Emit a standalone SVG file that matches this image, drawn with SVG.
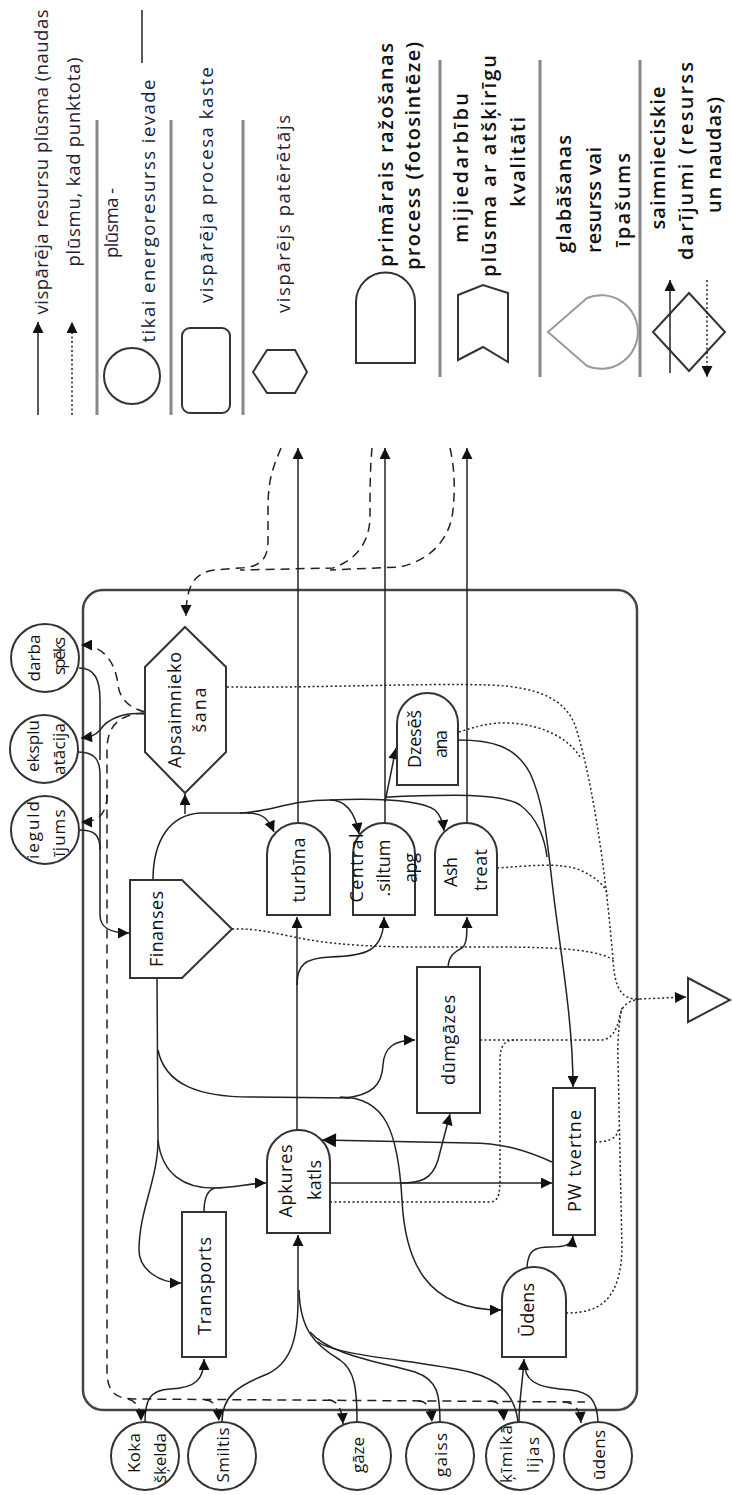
<svg xmlns="http://www.w3.org/2000/svg" width="732" height="1495" viewBox="0 0 732 1495">
<defs>
<style>
.n{fill:#fff;stroke:#333;stroke-width:2}
.c{fill:none;stroke:#222;stroke-width:1.5}
.a{marker-end:url(#ah)}
.d{stroke-dasharray:9,6}
.p{stroke-dasharray:2,2.5}
.sep{stroke:#888;stroke-width:3}
.t{font-family:"Open Sans","Liberation Sans",Arial,sans-serif;font-size:17px;fill:#111;text-anchor:middle;dominant-baseline:central}
.nd{font-size:18px}
.lg{fill:#1c2238;font-size:18.5px}
.big{font-size:20px;font-weight:600}
</style>
<marker id="ah" viewBox="0 0 10 10" refX="10" refY="5" markerWidth="12" markerHeight="11" markerUnits="userSpaceOnUse" orient="auto"><path d="M0,0 L10,5 L0,10 z" fill="#111"/></marker>
<marker id="ahb" viewBox="0 0 10 10" refX="10" refY="5" markerWidth="16" markerHeight="14" markerUnits="userSpaceOnUse" orient="auto"><path d="M0,0 L10,5 L0,10 z" fill="#111"/></marker>
</defs>
<rect width="732" height="1495" fill="#fff"/>

<g id="legend">
<path class="c a" d="M38,415 V322"/>
<path class="c a p" d="M72,415 V322"/>
<line class="sep" x1="97" y1="120" x2="97" y2="415"/>
<line class="sep" x1="171" y1="120" x2="171" y2="415"/>
<line class="sep" x1="243" y1="120" x2="243" y2="415"/>
<line class="sep" x1="440" y1="60" x2="440" y2="377"/>
<line class="sep" x1="540" y1="60" x2="540" y2="377"/>
<line class="sep" x1="640" y1="60" x2="640" y2="377"/>
<circle class="n" cx="132" cy="376" r="28"/>
<line x1="142" y1="10" x2="142" y2="63" stroke="#222" stroke-width="1.5"/>
<rect class="n" x="182" y="328" width="48" height="85" rx="8"/>
<polygon class="n" points="253,372 267,350 295,350 307,372 295,393 267,393"/>
<path class="n" d="M356,363 V302 A29.5,29.5 0 0 1 415,302 V363 Z"/>
<polygon class="n" points="458,295 483,285 508,293 508,362 483,347 458,360"/>
<path d="M548,332 L587,298 A36.8,36.8 0 1 1 587,366 Z" fill="#fff" stroke="#999" stroke-width="2"/>
<polygon class="n" points="689,293 725,332 689,371 653,332"/>
<path class="c a" d="M670,373 V280"/>
<path class="c a p" d="M707,280 V377"/>
<text class="t lg" transform="translate(40,162) rotate(-90)" textLength="305">vispārēja resursu plūsma (naudas</text>
<text class="t lg" transform="translate(72,162) rotate(-90)" textLength="209">plūsmu, kad punktota)</text>
<text class="t lg" transform="translate(110,223) rotate(-90)" textLength="70">plūsma -</text>
<text class="t lg" transform="translate(147,211) rotate(-90)" textLength="263">tikai energoresurss ievade</text>
<text class="t lg" transform="translate(205,185) rotate(-90)" textLength="236">vispārēja procesa kaste</text>
<text class="t lg" transform="translate(282,214) rotate(-90)" textLength="198">vispārējs patērētājs</text>
<text class="t big" transform="translate(385,155) rotate(-90)" textLength="224">primārais ražošanas</text>
<text class="t big" transform="translate(412,156) rotate(-90)" textLength="228">process (fotosintēze)</text>
<text class="t big" transform="translate(460,168) rotate(-90)" textLength="150">mijiedarbību</text>
<text class="t big" transform="translate(488,166) rotate(-90)" textLength="222">plūsma  ar atšķirīgu</text>
<text class="t big" transform="translate(517,162) rotate(-90)" textLength="90">kvalitāti</text>
<text class="t big" transform="translate(563,194) rotate(-90)" textLength="118">glabāšanas</text>
<text class="t big" transform="translate(593,200) rotate(-90)" textLength="106">resurss vai</text>
<text class="t big" transform="translate(622,200) rotate(-90)" textLength="94">īpašums</text>
<text class="t big" transform="translate(657,158) rotate(-90)" textLength="143">saimnieciskie</text>
<text class="t big" transform="translate(685,161) rotate(-90)" textLength="198">darījumi  (resurss</text>
<text class="t big" transform="translate(713,155) rotate(-90)" textLength="116">un naudas)</text>
</g>

<rect id="system" x="83" y="590" width="554" height="820" rx="20" fill="none" stroke="#444" stroke-width="2.5"/>

<g id="connectors">
<path class="c a" d="M298,823 V448"/>
<path class="c a" d="M385,823 V448"/>
<path class="c a" d="M467,823 V448"/>
<path class="c a" d="M385,802 L396,748"/>
<path class="c" d="M385,797 C440,795 500,792 520,805 C538,818 545,840 547,857"/>
<path class="c a" d="M458,740 C490,740 515,745 530,773 C545,805 548,850 553,890 C560,950 573,1020 573,1087"/>
<path class="c" d="M153,880 C153,840 170,815 200,813 L250,813"/>
<path class="c a" d="M185,814 V794"/>
<path class="c a" d="M248,813 C262,813 268,818 274,832"/>
<path class="c" d="M240,813 C270,812 290,800 330,800"/>
<path class="c a" d="M330,800 C345,800 355,812 359,834"/>
<path class="c a" d="M330,800 C380,798 420,800 435,810 C440,815 443,822 444,831"/>
<path class="c a" d="M157,978 L158,1140 C158,1180 139,1210 139,1250 C139,1270 160,1283 181,1283"/>
<path class="c" d="M158,1050 C165,1085 200,1097 250,1097 L350,1098"/>
<path class="c a" d="M345,1098 C372,1095 382,1085 383,1065 C384,1047 395,1040 415,1040"/>
<path class="c a" d="M340,1097 C385,1097 398,1130 402,1200 C405,1260 425,1310 501,1310"/>
<path class="c a" d="M158,1140 C162,1175 185,1188 213,1188 C235,1188 250,1183 266,1183"/>
<path class="c" d="M204,1212 C204,1198 207,1190 215,1188"/>
<path class="c a" d="M297,1130 V917"/>
<path class="c a" d="M297,985 C297,965 305,958 330,957 C365,956 384,952 384,917"/>
<path class="c a" d="M330,1183 L552,1183"/>
<path class="c a" d="M400,1183 C420,1183 432,1180 438,1160 L450,1114"/>
<path class="c" d="M552,1162 C530,1152 505,1143 470,1143 L322,1140" stroke-width="2.2" marker-end="url(#ahb)"/>
<path class="c a" d="M448,967 C449,955 455,952 462,948 C467,944 467,935 467,917"/>
<path class="c a" d="M145,1422 C145,1400 150,1390 170,1389 C195,1388 204,1380 204,1359"/>
<path class="c a" d="M222,1422 C222,1395 240,1385 265,1375 C290,1365 298,1340 298,1300 L298,1235"/>
<path class="c" d="M357,1422 C357,1390 355,1370 340,1360 C315,1345 300,1330 299,1290"/>
<path class="c" d="M440,1422 C440,1395 438,1380 415,1372 C380,1362 330,1355 310,1332"/>
<path class="c" d="M518,1422 C515,1395 500,1380 470,1372 C420,1360 340,1357 318,1342"/>
<path class="c a" d="M519,1422 C519,1400 523,1380 524,1359"/>
<path class="c" d="M598,1422 C597,1400 590,1392 570,1390 C545,1388 527,1385 525,1368"/>
<path class="c a" d="M527,1267 C528,1250 535,1247 550,1247 C565,1247 572,1245 573,1236"/>
<path class="c a" d="M79,830 C95,830 100,835 100,850 L100,915 C100,928 110,933 129,933"/>
<path class="c" d="M78,752 C95,752 100,760 100,775 L100,850"/>
<path class="c" d="M79,668 C95,668 100,680 100,700 L100,760"/>
<path class="c a" d="M145,714 C125,712 108,718 100,730 C95,736 90,737 81,738" stroke-width="1.2"/>
<path class="c a d" d="M145,712 C130,708 120,700 118,685 C116,665 105,645 81,645"/>
<path class="c d" d="M145,713 C120,714 107,725 107,750 L107,1370 C107,1392 115,1399 135,1399 L585,1402"/>
<path class="c a d" d="M107,795 C107,812 100,822 81,822"/>
<path class="c a d" d="M128,1399 C137,1401 141,1410 141,1421"/>
<path class="c a d" d="M205,1400 C214,1400 218,1408 219,1421"/>
<path class="c a d" d="M328,1400 C338,1400 342,1410 343,1424"/>
<path class="c a d" d="M418,1401 C428,1401 431,1410 432,1422"/>
<path class="c a d" d="M490,1401 C500,1401 503,1410 504,1421"/>
<path class="c a d" d="M563,1402 C575,1402 580,1410 581,1423"/>
<path class="c a d" d="M281,448 C272,470 268,480 268,510 L268,540 C268,560 260,567 240,568 L215,570 C195,572 186,585 186,616"/>
<path class="c d" d="M372,448 C370,470 370,490 370,520 C368,545 355,560 333,568 L240,570"/>
<path class="c d" d="M450,448 C455,470 455,490 453,510 C450,540 430,560 400,567 L330,570"/>
<path class="c a p" d="M613,960 C615,990 622,1000 640,999 L686,997"/>
<path class="c p" d="M227,687 C320,688 420,683 490,685 C540,687 565,700 575,725 C590,770 605,860 613,960"/>
<path class="c p" d="M459,732 C475,727 490,722 510,723 C545,725 570,740 580,757"/>
<path class="c p" d="M497,868 C530,866 560,862 580,870 C595,877 605,885 608,895"/>
<path class="c p" d="M232,929 C260,928 280,935 310,940 C340,945 380,947 420,947 L490,947 C540,947 590,948 610,958"/>
<path class="c p" d="M480,1040 L600,1040 C612,1040 617,1030 620,1015 C622,1005 630,1000 640,999"/>
<path class="c p" d="M330,1202 L490,1202 C500,1202 500,1190 500,1175 L500,1060 C500,1045 505,1040 515,1040"/>
<path class="c p" d="M595,1142 C605,1142 617,1140 618,1130"/>
<path class="c p" d="M566,1313 C600,1313 620,1300 622,1250 L618,1060 C617,1040 620,1015 622,1008"/>
</g>

<g id="n-darba"><circle class="n" cx="45" cy="658" r="34"/><text class="t" transform="translate(33,658) rotate(-90)" textLength="47">darba</text><text class="t" transform="translate(58,656) rotate(-90)" textLength="38">spēks</text></g>
<g id="n-eksplu"><circle class="n" cx="44" cy="749" r="34"/><text class="t" transform="translate(32,746) rotate(-90)" textLength="52">eksplu</text><text class="t" transform="translate(58,749) rotate(-90)" textLength="52">atācija</text></g>
<g id="n-ieguld"><circle class="n" cx="45" cy="830" r="34"/><text class="t" transform="translate(32,830) rotate(-90)" textLength="58">ieguld</text><text class="t" transform="translate(58,833) rotate(-90)" textLength="47">ījums</text></g>
<g id="n-apsaim"><polygon class="n" points="185,627 226,667 226,752 185,793 145,752 145,667"/><text class="t nd" transform="translate(174,710) rotate(-90)" textLength="116">Apsaimnieko</text><text class="t nd" transform="translate(199,710) rotate(-90)" textLength="45">šana</text></g>
<g id="n-finanses"><polygon class="n" points="130,880 182,880 232,929 182,978 130,978"/><text class="t nd" transform="translate(156,929) rotate(-90)" textLength="76">Finanses</text></g>
<g id="n-turbina"><path class="n" d="M267,915 V854.5 A31.5,31.5 0 0 1 330,854.5 V915 Z"/><text class="t nd" transform="translate(298,870) rotate(-90)" textLength="65">turbīna</text></g>
<g id="n-central"><path class="n" d="M353,915 V854 A31,31 0 0 1 415,854 V915 Z"/><text class="t nd" transform="translate(356,868) rotate(-90)" textLength="69">Central</text><text class="t nd" transform="translate(383,868) rotate(-90)" textLength="57">.siltum</text><text class="t nd" transform="translate(410,868) rotate(-90)" textLength="30">apg</text></g>
<g id="n-ash"><path class="n" d="M435,915 V854 A31,31 0 0 1 497,854 V915 Z"/><text class="t nd" transform="translate(450,872) rotate(-90)" textLength="30">Ash</text><text class="t nd" transform="translate(480,870) rotate(-90)" textLength="42">treat</text></g>
<g id="n-dzes"><path class="n" d="M397,785 V723.5 A30.5,30.5 0 0 1 458,723.5 V785 Z"/><text class="t nd" transform="translate(414,739) rotate(-90)" textLength="58">Dzesēš</text><text class="t nd" transform="translate(440,744) rotate(-90)" textLength="28">ana</text></g>
<g id="n-apkures"><path class="n" d="M267,1233 V1161.5 A31.5,31.5 0 0 1 330,1161.5 V1233 Z"/><text class="t nd" transform="translate(285,1181) rotate(-90)" textLength="73">Apkures</text><text class="t nd" transform="translate(314,1180) rotate(-90)" textLength="40">katls</text></g>
<g id="n-dum"><rect class="n" x="417" y="967" width="63" height="146"/><text class="t nd" transform="translate(448,1040) rotate(-90)" textLength="90">dūmgāzes</text></g>
<g id="n-pw"><rect class="n" x="553" y="1088" width="42" height="147"/><text class="t nd" transform="translate(574,1161) rotate(-90)" textLength="102">PW tvertne</text></g>
<g id="n-transports"><rect class="n" x="182" y="1212" width="44" height="145"/><text class="t nd" transform="translate(204,1286) rotate(-90)" textLength="98">Transports</text></g>
<g id="n-udens-proc"><path class="n" d="M502,1357 V1299 A32,32 0 0 1 566,1299 V1357 Z"/><text class="t nd" transform="translate(527,1310) rotate(-90)" textLength="54">Ūdens</text></g>
<g id="n-sink"><polygon class="n" points="688,978 688,1022 730,1000"/></g>
<g id="n-koka"><circle class="n" cx="145" cy="1456" r="34"/><text class="t" transform="translate(133,1453) rotate(-90)" textLength="40">Koka</text><text class="t" transform="translate(159,1458) rotate(-90)" textLength="50">šķelda</text></g>
<g id="n-smiltis"><circle class="n" cx="222" cy="1456" r="34"/><text class="t" transform="translate(222,1455) rotate(-90)" textLength="55">Smiltis</text></g>
<g id="n-gaze"><circle class="n" cx="357" cy="1456" r="34"/><text class="t" transform="translate(357,1455) rotate(-90)" textLength="36">gāze</text></g>
<g id="n-gaiss"><circle class="n" cx="440" cy="1456" r="34"/><text class="t" transform="translate(440,1455) rotate(-90)" textLength="44">gaiss</text></g>
<g id="n-kim"><circle class="n" cx="520" cy="1456" r="34"/><text class="t" transform="translate(505,1454) rotate(-90)" textLength="58">ķīmikā</text><text class="t" transform="translate(532,1455) rotate(-90)" textLength="36">lijas</text></g>
<g id="n-udens"><circle class="n" cx="598" cy="1456" r="34"/><text class="t" transform="translate(598,1455) rotate(-90)" textLength="50">ūdens</text></g>
</svg>
